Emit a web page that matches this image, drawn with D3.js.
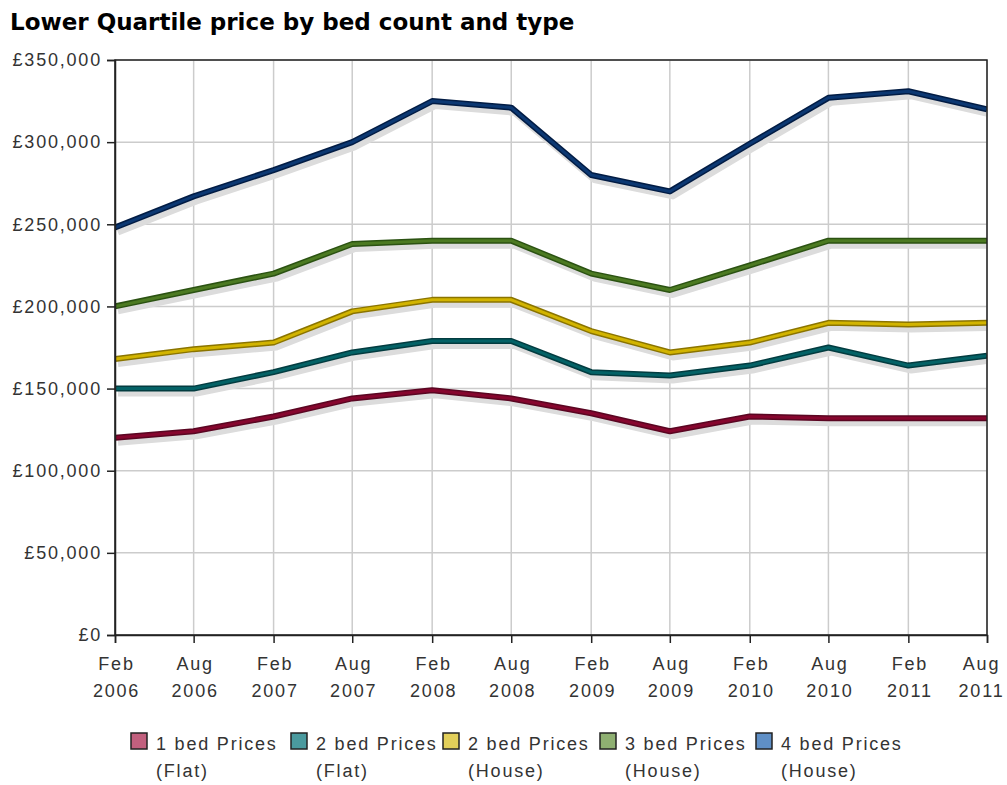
<!DOCTYPE html>
<html>
<head>
<meta charset="utf-8">
<script src="https://cdn.jsdelivr.net/npm/d3@7"></script>
<style>
  body { margin: 0; background: #fff; }
</style>
</head>
<body>
<script>
"use strict";

const width = 1007;
const height = 785;
const margin = { top: 60, right: 20, bottom: 150, left: 115 };
const labelFont = "'Liberation Sans', Arial, sans-serif";

// Data
const periods = ["2006-02", "2006-08", "2007-02", "2007-08", "2008-02", "2008-08",
  "2009-02", "2009-08", "2010-02", "2010-08", "2011-02", "2011-08"];
const monthLabels = ["Feb", "Aug", "Feb", "Aug", "Feb", "Aug", "Feb", "Aug", "Feb", "Aug", "Feb", "Aug"];
const yearLabels = ["2006", "2006", "2007", "2007", "2008", "2008", "2009", "2009", "2010", "2010", "2011", "2011"];

const bed1Flat = [120000, 124000, 133000, 144000, 149000, 144000, 135000, 124000, 133000, 132000, 132000, 132000];
const bed2Flat = [150000, 150000, 160000, 172000, 179000, 179000, 160000, 158000, 164000, 175000, 164000, 170000];
const bed2House = [168000, 174000, 178000, 197000, 204000, 204000, 185000, 172000, 178000, 190000, 189000, 190000];
const bed3House = [200000, 210000, 220000, 238000, 240000, 240000, 220000, 210000, 225000, 240000, 240000, 240000];
const bed4House = [248000, 267000, 283000, 300000, 325000, 321000, 280000, 270000, 299000, 327000, 331000, 320000];

const yTicks = [0, 50000, 100000, 150000, 200000, 250000, 300000, 350000];

const seriesNames = [["1 bed Prices", "(Flat)"], ["2 bed Prices", "(Flat)"], ["2 bed Prices", "(House)"],
  ["3 bed Prices", "(House)"], ["4 bed Prices", "(House)"]];
const seriesValues = [bed1Flat, bed2Flat, bed2House, bed3House, bed4House];
const outerColors = ["#5a0622", "#033c40", "#8a7400", "#2b5212", "#021c44"];
const innerColors = ["#86062e", "#046266", "#d2b400", "#4c7a22", "#0c3872"];
const swatchColors = ["#c2607e", "#4a9a9e", "#e2cf5a", "#8fb072", "#5f8fc6"];

const parse = d3.timeParse("%Y-%m");
const dates = periods.map(parse);

const svg = d3.select("body").append("svg")
  .attr("width", width)
  .attr("height", height);

svg.append("text")
  .attr("x", 10)
  .attr("y", 30)
  .style("font-family", "'DejaVu Sans', Verdana, sans-serif")
  .style("font-weight", "bold")
  .style("font-size", "23px")
  .attr("fill", "#000")
  .text("Lower Quartile price by bed count and type");

const x = d3.scaleTime()
  .domain(d3.extent(dates))
  .range([margin.left, width - margin.right]);

const y = d3.scaleLinear()
  .domain([0, 350000])
  .range([height - margin.bottom, margin.top]);

// gridlines
svg.append("g")
  .selectAll("line")
  .data(dates)
  .enter()
  .append("line")
  .attr("x1", d => x(d)).attr("x2", d => x(d))
  .attr("y1", margin.top).attr("y2", height - margin.bottom)
  .attr("stroke", "#cccccc")
  .attr("stroke-width", 1.5);

svg.append("g")
  .selectAll("line")
  .data(yTicks)
  .enter()
  .append("line")
  .attr("x1", margin.left).attr("x2", width - margin.right)
  .attr("y1", d => y(d)).attr("y2", d => y(d))
  .attr("stroke", "#cccccc")
  .attr("stroke-width", 1.5);

const line = d3.line()
  .x((d, i) => x(dates[i]))
  .y(d => y(d));

svg.append("clipPath").attr("id", "plotclip")
  .append("rect")
  .attr("x", margin.left).attr("y", margin.top)
  .attr("width", width - margin.right - margin.left)
  .attr("height", height - margin.bottom - margin.top);

const plot = svg.append("g").attr("clip-path", "url(#plotclip)");

// shadows first
seriesValues.forEach(function (vals) {
  plot.append("path")
    .datum(vals)
    .attr("d", line)
    .attr("transform", "translate(3,5)")
    .attr("fill", "none")
    .attr("stroke", "#dcdcdc")
    .attr("stroke-width", 6)
    .attr("stroke-linejoin", "round");
});

seriesValues.forEach(function (vals, k) {
  plot.append("path")
    .datum(vals)
    .attr("d", line)
    .attr("fill", "none")
    .attr("stroke", outerColors[k])
    .attr("stroke-width", 6)
    .attr("stroke-linejoin", "round");
  plot.append("path")
    .datum(vals)
    .attr("d", line)
    .attr("fill", "none")
    .attr("stroke", innerColors[k])
    .attr("stroke-width", 3)
    .attr("stroke-linejoin", "round");
});

// frame
svg.append("rect")
  .attr("x", margin.left).attr("y", margin.top)
  .attr("width", width - margin.right - margin.left)
  .attr("height", height - margin.bottom - margin.top)
  .attr("fill", "none")
  .attr("stroke", "#222")
  .attr("stroke-width", 1.5);

// y axis
const yAxis = svg.append("g")
  .attr("transform", "translate(" + margin.left + ",0)")
  .call(d3.axisLeft(y).tickValues(yTicks).tickSize(8).tickPadding(5)
    .tickFormat(d => "£" + d3.format(",")(d)));
yAxis.select(".domain").attr("stroke", "#222").attr("stroke-width", 1.5);
yAxis.selectAll(".tick line").attr("stroke", "#222").attr("stroke-width", 1.5);
yAxis.selectAll(".tick text")
  .attr("font-family", labelFont)
  .attr("font-size", 18)
  .attr("letter-spacing", 1.8)
  .attr("fill", "#333");

// x axis
const xAxis = svg.append("g")
  .attr("transform", "translate(0," + (height - margin.bottom) + ")")
  .call(d3.axisBottom(x).tickValues(dates).tickSize(8).tickFormat(""));
xAxis.select(".domain").attr("stroke", "#222").attr("stroke-width", 1.5);
xAxis.selectAll(".tick line").attr("stroke", "#222").attr("stroke-width", 1.5);
xAxis.selectAll(".tick").each(function (d, i) {
  // last label sits at the right edge; nudge it in so it is not cut
  const dx = i === dates.length - 1 ? -6 : 1;
  const t = d3.select(this).append("text")
    .attr("fill", "#333")
    .attr("font-family", labelFont)
    .attr("font-size", 18)
    .attr("letter-spacing", 1.8)
    .attr("text-anchor", "middle");
  t.append("tspan").attr("x", dx).attr("y", 35).text(monthLabels[i]);
  t.append("tspan").attr("x", dx).attr("y", 62).text(yearLabels[i]);
});

// legend
const legendX = [131, 291, 443, 600, 756];
const legend = svg.append("g");
seriesNames.forEach(function (name, k) {
  const g = legend.append("g").attr("transform", "translate(" + legendX[k] + ",733)");
  g.append("rect")
    .attr("x", 0).attr("y", 0)
    .attr("width", 16).attr("height", 16)
    .attr("fill", swatchColors[k])
    .attr("stroke", "#222")
    .attr("stroke-width", 1.5);
  g.selectAll("text")
    .data(name)
    .enter()
    .append("text")
    .attr("x", 25)
    .attr("y", (d, j) => 17 + j * 27)
    .attr("font-family", labelFont)
    .attr("font-size", 18)
    .attr("letter-spacing", 1.8)
    .attr("fill", "#333")
    .text(d => d);
});
</script>
</body>
</html>
